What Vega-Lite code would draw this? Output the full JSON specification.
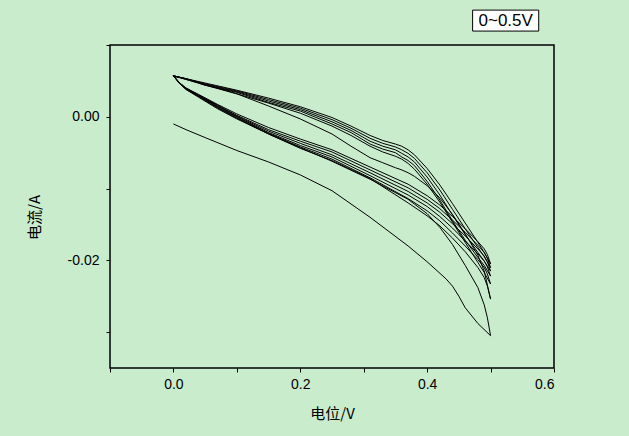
{
  "$schema": "https://vega.github.io/schema/vega-lite/v6.json",
  "width": 444,
  "height": 323,
  "autosize": {"type": "none"},
  "padding": {"left": 110, "top": 45, "right": 75, "bottom": 68},
  "background": "#c9eccd",
  "config": {
    "view": {"stroke": "#000000", "strokeWidth": 1.5, "fill": "#c9eccd"},
    "axis": {"grid": false, "domain": false, "tickColor": "#000000", "tickSize": 4, "tickWidth": 1,
      "labelFont": "Liberation Sans", "labelFontSize": 14, "labelColor": "#000000",
      "titleFont": "Noto Sans CJK SC", "titleFontSize": 15, "titleFontWeight": "normal", "titleColor": "#000000"}
  },
  "datasets": {
    "up": [
      {"x": 0.00, "U2": 0.0057, "U3": 0.0057, "U4": 0.0057, "U5": 0.0057, "U6": 0.0057, "U7": 0.0057},
      {"x": 0.02, "U2": 0.0052, "U3": 0.0052, "U4": 0.0053, "U5": 0.0053, "U6": 0.0053, "U7": 0.0053},
      {"x": 0.05, "U2": 0.0045, "U3": 0.0044, "U4": 0.0044, "U5": 0.0045, "U6": 0.0046, "U7": 0.0047},
      {"x": 0.10, "U2": 0.0032, "U3": 0.0032, "U4": 0.0034, "U5": 0.0035, "U6": 0.0036, "U7": 0.0037},
      {"x": 0.15, "U2": 0.0015, "U3": 0.0019, "U4": 0.0020, "U5": 0.0022, "U6": 0.0024, "U7": 0.0026},
      {"x": 0.20, "U2": -0.0003, "U3": 0.0005, "U4": 0.0008, "U5": 0.0010, "U6": 0.0012, "U7": 0.0014},
      {"x": 0.25, "U2": -0.0024, "U3": -0.0013, "U4": -0.0010, "U5": -0.0007, "U6": -0.0004, "U7": -0.0001},
      {"x": 0.28, "U2": -0.0041, "U3": -0.0026, "U4": -0.0022, "U5": -0.0019, "U6": -0.0016, "U7": -0.0013},
      {"x": 0.31, "U2": -0.0057, "U3": -0.0041, "U4": -0.0038, "U5": -0.0034, "U6": -0.0030, "U7": -0.0026},
      {"x": 0.33, "U2": -0.0064, "U3": -0.0049, "U4": -0.0045, "U5": -0.0041, "U6": -0.0037, "U7": -0.0033},
      {"x": 0.35, "U2": -0.0071, "U3": -0.0055, "U4": -0.0050, "U5": -0.0046, "U6": -0.0042, "U7": -0.0038},
      {"x": 0.36, "U2": -0.0074, "U3": -0.0059, "U4": -0.0056, "U5": -0.0051, "U6": -0.0046, "U7": -0.0041},
      {"x": 0.37, "U2": -0.0078, "U3": -0.0065, "U4": -0.0061, "U5": -0.0056, "U6": -0.0051, "U7": -0.0046},
      {"x": 0.38, "U2": -0.0083, "U3": -0.0073, "U4": -0.0068, "U5": -0.0063, "U6": -0.0058, "U7": -0.0053},
      {"x": 0.40, "U2": -0.0096, "U3": -0.0094, "U4": -0.0090, "U5": -0.0084, "U6": -0.0078, "U7": -0.0072},
      {"x": 0.42, "U2": -0.0113, "U3": -0.0119, "U4": -0.0116, "U5": -0.0109, "U6": -0.0102, "U7": -0.0095},
      {"x": 0.44, "U2": -0.0136, "U3": -0.0147, "U4": -0.0145, "U5": -0.0137, "U6": -0.0129, "U7": -0.0121},
      {"x": 0.46, "U2": -0.0163, "U3": -0.0175, "U4": -0.0172, "U5": -0.0164, "U6": -0.0156, "U7": -0.0148},
      {"x": 0.48, "U2": -0.0193, "U3": -0.0203, "U4": -0.0196, "U5": -0.0189, "U6": -0.0182, "U7": -0.0175},
      {"x": 0.49, "U2": -0.0215, "U3": -0.0217, "U4": -0.0207, "U5": -0.0201, "U6": -0.0195, "U7": -0.0189},
      {"x": 0.50, "U2": -0.0254, "U3": -0.0233, "U4": -0.0222, "U5": -0.0215, "U6": -0.0210, "U7": -0.0205}
    ],
    "rev": [
      {"x": 0.00, "R1": 0.0057, "R2": 0.0057, "R3": 0.0057, "R4": 0.0057, "R5": 0.0057, "R6": 0.0057, "R7": 0.0057},
      {"x": 0.01, "R1": 0.0046, "R2": 0.0046, "R3": 0.0046, "R4": 0.0047, "R5": 0.0047, "R6": 0.0047, "R7": 0.0047},
      {"x": 0.02, "R1": 0.0038, "R2": 0.0038, "R3": 0.0039, "R4": 0.0039, "R5": 0.0039, "R6": 0.0040, "R7": 0.0040},
      {"x": 0.04, "R1": 0.0027, "R2": 0.0028, "R3": 0.0029, "R4": 0.0029, "R5": 0.0030, "R6": 0.0030, "R7": 0.0031},
      {"x": 0.07, "R1": 0.0011, "R2": 0.0012, "R3": 0.0013, "R4": 0.0014, "R5": 0.0015, "R6": 0.0016, "R7": 0.0017},
      {"x": 0.10, "R1": -0.0003, "R2": -0.0002, "R3": -0.0001, "R4": 0.0000, "R5": 0.0001, "R6": 0.0002, "R7": 0.0004},
      {"x": 0.15, "R1": -0.0024, "R2": -0.0024, "R3": -0.0023, "R4": -0.0022, "R5": -0.0020, "R6": -0.0018, "R7": -0.0015},
      {"x": 0.20, "R1": -0.0043, "R2": -0.0044, "R3": -0.0042, "R4": -0.0040, "R5": -0.0037, "R6": -0.0034, "R7": -0.0031},
      {"x": 0.25, "R1": -0.0062, "R2": -0.0061, "R3": -0.0059, "R4": -0.0056, "R5": -0.0053, "R6": -0.0049, "R7": -0.0046},
      {"x": 0.31, "R1": -0.0087, "R2": -0.0086, "R3": -0.0085, "R4": -0.0082, "R5": -0.0078, "R6": -0.0074, "R7": -0.0070},
      {"x": 0.37, "R1": -0.0115, "R2": -0.0120, "R3": -0.0114, "R4": -0.0109, "R5": -0.0104, "R6": -0.0099, "R7": -0.0094},
      {"x": 0.40, "R1": -0.0135, "R2": -0.0138, "R3": -0.0131, "R4": -0.0125, "R5": -0.0120, "R6": -0.0115, "R7": -0.0110},
      {"x": 0.42, "R1": -0.0154, "R2": -0.0152, "R3": -0.0145, "R4": -0.0139, "R5": -0.0133, "R6": -0.0128, "R7": -0.0123},
      {"x": 0.44, "R1": -0.0178, "R2": -0.0169, "R3": -0.0162, "R4": -0.0155, "R5": -0.0149, "R6": -0.0144, "R7": -0.0139},
      {"x": 0.46, "R1": -0.0207, "R2": -0.0188, "R3": -0.0180, "R4": -0.0173, "R5": -0.0166, "R6": -0.0161, "R7": -0.0156},
      {"x": 0.48, "R1": -0.0238, "R2": -0.0210, "R3": -0.0199, "R4": -0.0191, "R5": -0.0184, "R6": -0.0179, "R7": -0.0174},
      {"x": 0.49, "R1": -0.0262, "R2": -0.0224, "R3": -0.0210, "R4": -0.0201, "R5": -0.0194, "R6": -0.0189, "R7": -0.0184},
      {"x": 0.495, "R1": -0.0280, "R2": -0.0236, "R3": -0.0219, "R4": -0.0209, "R5": -0.0202, "R6": -0.0197, "R7": -0.0192},
      {"x": 0.50, "R1": -0.0305, "R2": -0.0254, "R3": -0.0233, "R4": -0.0222, "R5": -0.0215, "R6": -0.0210, "R7": -0.0205}
    ],
    "first": [
      {"x": 0.00, "y": -0.0010},
      {"x": 0.02, "y": -0.0018},
      {"x": 0.05, "y": -0.0029},
      {"x": 0.10, "y": -0.0047},
      {"x": 0.15, "y": -0.0063},
      {"x": 0.20, "y": -0.0081},
      {"x": 0.25, "y": -0.0103},
      {"x": 0.31, "y": -0.0140},
      {"x": 0.37, "y": -0.0180},
      {"x": 0.40, "y": -0.0202},
      {"x": 0.43, "y": -0.0226},
      {"x": 0.44, "y": -0.0236},
      {"x": 0.45, "y": -0.0250},
      {"x": 0.46, "y": -0.0266},
      {"x": 0.48, "y": -0.0288},
      {"x": 0.50, "y": -0.0305}
    ],
    "box": [{"x": 0.4717, "x2": 0.5759, "y": 0.01486, "y2": 0.01194}],
    "label": [{"x": 0.5238, "y": 0.01335, "t": "0~0.5V"}]
  },
  "encoding": {
    "x": {"field": "x", "type": "quantitative",
      "scale": {"domain": [-0.1, 0.6], "nice": false, "zero": false},
      "axis": {"values": [-0.1, 0, 0.1, 0.2, 0.3, 0.4, 0.5, 0.6],
        "labelExpr": "abs(datum.value) < 1e-9 ? '0.0' : abs(datum.value - 0.2) < 1e-9 ? '0.2' : abs(datum.value - 0.4) < 1e-9 ? '0.4' : abs(datum.value - 0.6) < 1e-9 ? '0.6' : ''",
        "labelPadding": 5, "title": "电位/V", "titleBaseline": "middle", "titleY": 45}},
    "y": {"field": "y", "type": "quantitative",
      "scale": {"domain": [-0.035, 0.01], "nice": false, "zero": false},
      "axis": {"values": [-0.03, -0.02, -0.01, 0, 0.01],
        "labelExpr": "abs(datum.value) < 1e-9 ? '0.00' : abs(datum.value + 0.02) < 1e-9 ? '-0.02' : ''",
        "labelPadding": 7, "title": "电流/A", "titleAlign": "center", "titleBaseline": "middle", "titleX": -76, "titleY": 172}}
  },
  "layer": [
    {
      "data": {"name": "up"},
      "transform": [{"fold": ["U2", "U3", "U4", "U5", "U6", "U7"], "as": ["s", "y"]}],
      "mark": {"type": "line", "color": "#000000", "strokeWidth": 1},
      "encoding": {"detail": {"field": "s", "type": "nominal"}}
    },
    {
      "data": {"name": "rev"},
      "transform": [{"fold": ["R1", "R2", "R3", "R4", "R5", "R6", "R7"], "as": ["s", "y"]}],
      "mark": {"type": "line", "color": "#000000", "strokeWidth": 1},
      "encoding": {"detail": {"field": "s", "type": "nominal"}}
    },
    {
      "data": {"name": "first"},
      "mark": {"type": "line", "color": "#000000", "strokeWidth": 1},
      "encoding": {}
    },
    {
      "data": {"name": "box"},
      "mark": {"type": "rect", "fill": "#ffffff", "stroke": "#000000", "strokeWidth": 1},
      "encoding": {"x2": {"field": "x2"}, "y2": {"field": "y2"}}
    },
    {
      "data": {"name": "label"},
      "mark": {"type": "text", "font": "Liberation Sans", "fontSize": 17, "color": "#000000", "align": "center", "baseline": "middle"},
      "encoding": {"text": {"field": "t", "type": "nominal"}}
    }
  ]
}
